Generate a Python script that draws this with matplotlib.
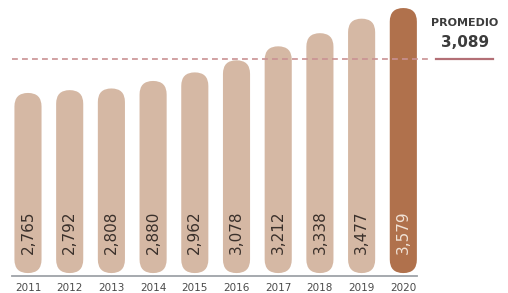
import matplotlib
matplotlib.use("Agg")
import matplotlib.pyplot as plt
from matplotlib.patches import FancyBboxPatch

years = ["2011", "2012", "2013", "2014", "2015", "2016", "2017", "2018", "2019", "2020"]
values = [2765, 2792, 2808, 2880, 2962, 3078, 3212, 3338, 3477, 3579]
labels = ["2,765", "2,792", "2,808", "2,880", "2,962", "3,078", "3,212", "3,338", "3,477", "3,579"]
average = 3089
average_label = "3,089"

BASE = 1010
LIGHT = "#d5b8a4"
DARK = "#b0714c"
BAR_W = 0.65

fig = plt.figure(figsize=(5.08, 2.93), dpi=100)
ax = fig.add_axes([0, 0, 1, 1])
ax.set_xlim(-0.671, 11.51)
ax.set_ylim(847, 3656)
ax.axis("off")

# aspect so the rounded ends come out as half circles
p0 = ax.transData.transform((0, 0))
p1 = ax.transData.transform((1, 1))
aspect = (p1[0] - p0[0]) / (p1[1] - p0[1])

for i, (v, lab) in enumerate(zip(values, labels)):
    last = i == len(values) - 1
    bottom = BASE + 28
    patch = FancyBboxPatch((i - BAR_W / 2, bottom), BAR_W, v - bottom,
                           boxstyle=f"round,pad=0,rounding_size={BAR_W / 2}",
                           mutation_aspect=aspect, linewidth=0,
                           facecolor=DARK if last else LIGHT, zorder=2)
    ax.add_patch(patch)
    ax.annotate(lab, xy=(i, BASE), xytext=(0, 16), textcoords="offset points",
                rotation=90, ha="center", va="bottom", fontsize=11,
                color="#f1e2d6" if last else "#3a302b", zorder=4)
    ax.annotate(years[i], xy=(i, BASE), xytext=(0, -8.5), textcoords="offset points",
                ha="center", va="center", fontsize=7.5, color="#4a4a4a")

# baseline
ax.plot([-0.38, 9.33], [BASE, BASE], color="#9ea3a8", lw=1.3, zorder=3)

# average line
ax.plot([-0.38, 9.64], [average, average], color="#c99193", lw=1.2,
        dashes=(3.5, 2.5), zorder=3)
ax.plot([9.78, 11.15], [average, average], color="#b36f76", lw=1.6, zorder=3)
ax.text(10.48, 0.92, "PROMEDIO", transform=ax.get_xaxis_transform(),
        ha="center", va="center", fontsize=8, fontweight="bold", color="#3c3c3c")
ax.text(10.48, 0.855, average_label, transform=ax.get_xaxis_transform(),
        ha="center", va="center", fontsize=11, fontweight="bold", color="#3c3c3c")

plt.savefig("out.png", dpi=100)
